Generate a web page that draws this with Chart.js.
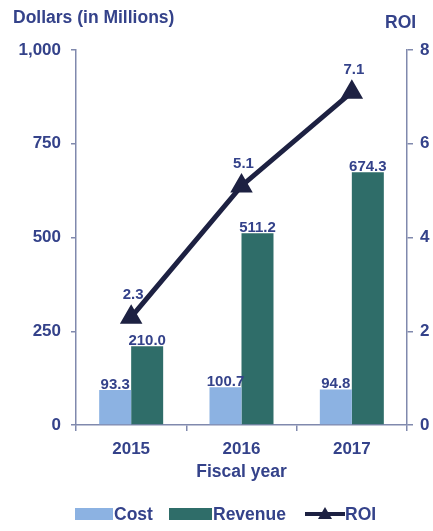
<!DOCTYPE html>
<html>
<head>
<meta charset="utf-8">
<script src="https://cdn.jsdelivr.net/npm/chart.js@4/dist/chart.umd.min.js"></script>
<style>
  body { margin: 0; background: #fff; font-family: "Liberation Sans", Arial, sans-serif; }
  #wrap { position: relative; width: 433px; height: 531px; }
  .title { position: absolute; font-weight: bold; font-size: 17.5px; line-height: 20px; color: #34428a; }
  #legend { position: absolute; top: 504px; left: 0; width: 433px; height: 20px; }
  .item { position: absolute; top: 0; height: 20px; line-height: 20px; font-weight: bold; font-size: 17.5px; color: #34428a; }
  .box { position: absolute; top: 4px; height: 12px; }
</style>
</head>
<body>
<div id="wrap">
  <canvas id="roiChart"></canvas>
  <div class="title" style="left:13px; top:7px;">Dollars (in Millions)</div>
  <div class="title" style="left:385px; top:12px;">ROI</div>
  <div id="legend">
    <div class="box" style="left:75px; width:38px; background:#8cb2e2;"></div>
    <div class="item" style="left:114px;">Cost</div>
    <div class="box" style="left:169px; width:43px; background:#2f6d69;"></div>
    <div class="item" style="left:213px;">Revenue</div>
    <canvas id="roiKey" width="40" height="20" style="position:absolute; left:305px; top:0;"></canvas>
    <div class="item" style="left:345px;">ROI</div>
  </div>
</div>
<script>
const years = ["2015", "2016", "2017"];
const cost = [93.3, 100.7, 94.8];
const revenue = [210.0, 511.2, 674.3];
const roi = [2.3, 5.1, 7.1];

const textColor = "#34428a";
const axisColor = "#8089ad";
const lineColor = "#1d2142";

// legend key for the ROI line
const key = document.getElementById("roiKey").getContext("2d");
key.strokeStyle = lineColor;
key.lineWidth = 4;
key.beginPath();
key.moveTo(0, 10);
key.lineTo(40, 10);
key.stroke();
key.fillStyle = lineColor;
key.beginPath();
key.moveTo(20, 3);
key.lineTo(27, 15);
key.lineTo(13, 15);
key.closePath();
key.fill();

// value labels above bars and points
const valueLabels = {
  id: "valueLabels",
  afterDatasetsDraw(chart) {
    const ctx = chart.ctx;
    ctx.save();
    ctx.font = "bold 15px 'Liberation Sans', Arial, sans-serif";
    ctx.fillStyle = textColor;
    ctx.textAlign = "center";
    chart.data.datasets.forEach((ds, i) => {
      const meta = chart.getDatasetMeta(i);
      meta.data.forEach((el, j) => {
        const v = ds.data[j];
        if (ds.type === "line") {
          ctx.textBaseline = "middle";
          ctx.fillText(v.toFixed(1), el.x + 2, el.y - 22);
        } else {
          ctx.textBaseline = "bottom";
          ctx.fillText(v.toFixed(1), el.x, el.y + 2);
        }
      });
    });
    ctx.restore();
  }
};

const tickFont = { family: "'Liberation Sans', Arial, sans-serif", size: 17, weight: "bold" };
const titleFont = { family: "'Liberation Sans', Arial, sans-serif", size: 17.5, weight: "bold" };

new Chart(document.getElementById("roiChart"), {
  type: "bar",
  data: {
    labels: years,
    datasets: [
      {
        type: "line",
        label: "ROI",
        data: roi,
        yAxisID: "y2",
        borderColor: lineColor,
        backgroundColor: lineColor,
        borderWidth: 5,
        pointStyle: "triangle",
        pointRadius: 8,
        pointHoverRadius: 8,
        order: 0
      },
      {
        label: "Cost",
        data: cost,
        yAxisID: "y",
        backgroundColor: "#8cb2e2",
        categoryPercentage: 0.58,
        barPercentage: 1.0,
        order: 1
      },
      {
        label: "Revenue",
        data: revenue,
        yAxisID: "y",
        backgroundColor: "#2f6d69",
        categoryPercentage: 0.58,
        barPercentage: 1.0,
        order: 1
      }
    ]
  },
  options: {
    responsive: true,
    maintainAspectRatio: false,
    animation: false,
    layout: { padding: { top: 50, bottom: 40, left: 0, right: 0 } },
    plugins: {
      legend: { display: false },
      tooltip: { enabled: false }
    },
    scales: {
      x: {
        grid: { drawOnChartArea: false, color: axisColor, tickLength: 6, lineWidth: 1.5 },
        border: { color: axisColor, width: 1.5 },
        ticks: { color: textColor, font: tickFont, padding: 8 },
        title: {
          display: true,
          text: "Fiscal year",
          color: textColor,
          font: titleFont,
          padding: { top: 2, bottom: 8 }
        },
        afterFit(scale) { scale.height = 66; }
      },
      y: {
        position: "left",
        min: 0,
        max: 1000,
        ticks: { stepSize: 250, color: textColor, font: tickFont, padding: 10 },
        grid: { drawOnChartArea: false, color: axisColor, tickLength: 5, lineWidth: 1.5 },
        border: { color: axisColor, width: 1.5 },
        afterFit(scale) { scale.width = 76; }
      },
      y2: {
        position: "right",
        min: 0,
        max: 8,
        ticks: { stepSize: 2, color: textColor, font: tickFont, padding: 7 },
        grid: { drawOnChartArea: false, color: axisColor, tickLength: 6, lineWidth: 1.5 },
        border: { color: axisColor, width: 1.5 },
        afterFit(scale) { scale.width = 26; }
      }
    }
  },
  plugins: [valueLabels]
});
</script>
</body>
</html>
